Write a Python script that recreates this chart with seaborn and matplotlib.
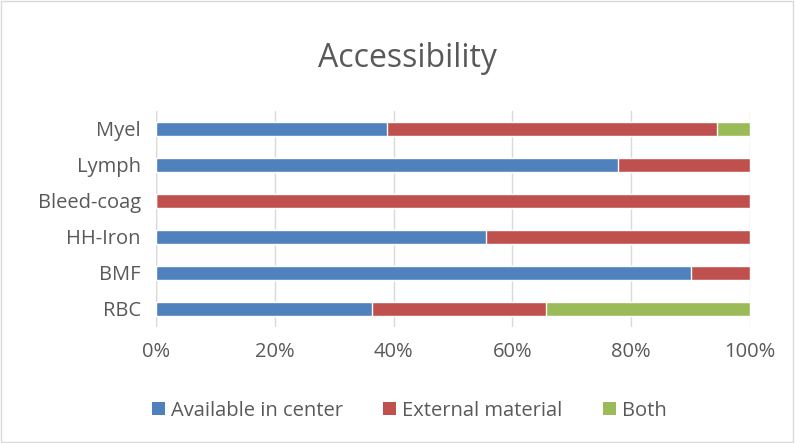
import matplotlib
matplotlib.use("Agg")
import matplotlib.pyplot as plt
import seaborn as sns
import pandas as pd
import numpy as np
from matplotlib.patches import Patch, Rectangle

categories = ["Myel", "Lymph", "Bleed-coag", "HH-Iron", "BMF", "RBC"]
available = [38.9, 77.8, 0.0, 55.6, 90.0, 36.4]
external = [55.6, 22.2, 100.0, 44.4, 10.0, 29.3]
both = [5.5, 0.0, 0.0, 0.0, 0.0, 34.3]
series_names = ["Available in center", "External material", "Both"]
colors = ["#4F81BD", "#C0504D", "#9BBB59"]
tick_labels = ["0%", "20%", "40%", "60%", "80%", "100%"]

sns.set_style("white")
plt.rcParams["font.family"] = ["Open Sans", "DejaVu Sans"]
text_color = "#595959"

fig = plt.figure(figsize=(7.95, 4.43), dpi=100)
fig.patches.append(Rectangle((0.001, 0.002), 0.997, 0.995, transform=fig.transFigure,
                             fill=False, edgecolor="#d9d9d9", linewidth=1.0))
ax = fig.add_axes([0.1962, 0.2619, 0.7472, 0.4876])

a = np.array(available)
e = np.array(external)
b = np.array(both)
layers = [a + e + b, a + e, a]
layer_colors = [colors[2], colors[1], colors[0]]
for vals, col in zip(layers, layer_colors):
    df = pd.DataFrame({"cat": categories, "val": vals})
    sns.barplot(data=df, x="val", y="cat", order=categories, orient="h",
                color=col, width=0.4, saturation=1, ax=ax, zorder=3)

ax.set_xlim(0, 100)
ax.set_ylim(5.5, -0.5)
ax.set_xticks([0, 20, 40, 60, 80, 100])
ax.set_xticklabels(tick_labels)
ax.grid(axis="x", color="#d9d9d9", linewidth=1.0, zorder=0)
ax.set_axisbelow(True)
for s in ax.spines.values():
    s.set_visible(False)
ax.axvline(0, color="#d9d9d9", linewidth=1.0, zorder=1)
ax.tick_params(axis="both", length=0, labelsize=14.5, colors=text_color)
ax.tick_params(axis="y", pad=11)
ax.tick_params(axis="x", pad=11)
ax.set_xlabel("")
ax.set_ylabel("")

fig.text(0.512, 0.868, "Accessibility", ha="center", va="center", fontsize=23, color=text_color)

handles = [Patch(facecolor=c, edgecolor="none") for c in colors]
fig.legend(handles, series_names, loc="center", bbox_to_anchor=(0.515, 0.073), ncol=3,
           frameon=False, fontsize=14.5, labelcolor=text_color, handlelength=0.65,
           handleheight=0.65, handletextpad=0.3, columnspacing=2.0)

fig.savefig("out.png", dpi=100)
